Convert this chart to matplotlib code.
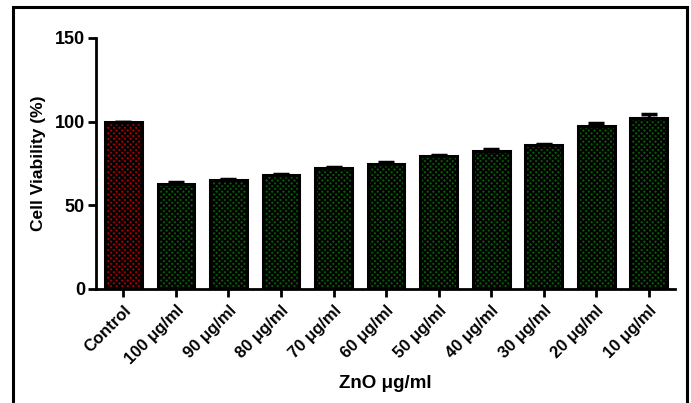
import numpy as np
import matplotlib.pyplot as plt
import matplotlib.patches as patches

plt.rcParams['font.family'] = ['Liberation Sans', 'DejaVu Sans']
plt.rcParams['hatch.linewidth'] = 1.3
plt.rcParams['hatch.color'] = 'black'

labels = ['Control', '100 μg/ml', '90 μg/ml', '80 μg/ml', '70 μg/ml', '60 μg/ml',
          '50 μg/ml', '40 μg/ml', '30 μg/ml', '20 μg/ml', '10 μg/ml']
viability = [100, 62.5, 64.8, 67.9, 72.3, 74.6, 79.3, 82.6, 85.8, 97.6, 102.0]
sem = [0, 1.6, 1.0, 0.9, 0.7, 1.4, 0.7, 0.9, 0.8, 1.8, 2.4]

fig = plt.figure(figsize=(6.91, 4.03), dpi=100)
ax = fig.add_axes([0.139, 0.283, 0.838, 0.623])

x = np.arange(len(labels))
colors = ['#a00000'] + ['#075807'] * (len(labels) - 1)
ax.bar(x, viability, width=0.7, color=colors, edgecolor='black', linewidth=2.2,
       hatch='xxxxxx', zorder=2)
# upper error bars only
ax.errorbar(x, viability, yerr=[np.zeros(len(sem)), sem], fmt='none',
            ecolor='black', elinewidth=2, capsize=6, capthick=2.5, zorder=3)

ax.set_xlim(-0.52, 10.5)
ax.set_ylim(0, 150)
ax.set_yticks([0, 50, 100, 150])
ax.set_xticks(x)
ax.set_xticklabels(labels, rotation=45, ha='right', rotation_mode='anchor',
                   fontsize=12, fontweight='bold')
for t in ax.get_yticklabels():
    t.set_fontweight('bold')
    t.set_fontsize(13)
ax.tick_params(axis='both', width=2, length=6, direction='out')
ax.tick_params(axis='y', pad=2)
ax.tick_params(axis='x', pad=4)

ax.spines['top'].set_visible(False)
ax.spines['right'].set_visible(False)
ax.spines['left'].set_linewidth(2)
ax.spines['bottom'].set_linewidth(2)

ax.set_ylabel('Cell Viability (%)', fontsize=12.5, fontweight='bold', labelpad=6)
fig.text(0.557, 0.048, 'ZnO μg/ml', ha='center', va='center',
         fontsize=13.5, fontweight='bold')

# outer frame
frame = patches.Rectangle((0.019, -0.05), 0.975, 1.033, transform=fig.transFigure,
                          fill=False, edgecolor='black', linewidth=2.2)
fig.patches.append(frame)

fig.savefig('out.png', dpi=100)
